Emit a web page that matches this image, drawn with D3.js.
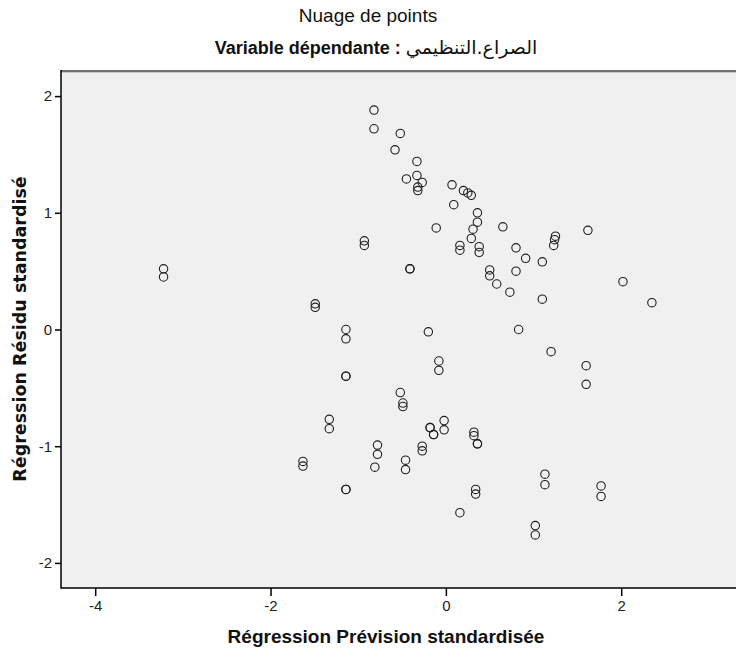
<!DOCTYPE html>
<html>
<head>
<meta charset="utf-8">
<script src="https://cdn.jsdelivr.net/npm/d3@7"></script>
<style>
  body { margin: 0; background: #fff; }
  svg { display: block; }
  .tick text { font-family: "Liberation Sans Narrow", "Liberation Sans", Arial, sans-serif; font-size: 15px; fill: #222; }
  .tick line { stroke: #000; }
</style>
</head>
<body>
<div id="vis_container"></div>
<script>
// Standardized predicted value (x) and standardized residual (y).
// Overlapping circles that look darker are entered twice.
var pred = [
  -0.82, -0.82, -0.52, -0.58, -0.33, -0.33, -0.45, -0.27, -0.32, -0.32,
  0.07, 0.20, 0.25, 0.29, 0.09, 0.36, 0.36, 0.31, 0.29, -0.11,
  -0.93, -0.93, 0.16, 0.16, 0.38, 0.38, 0.65, 0.80, 0.91, 1.10,
  1.25, 1.24, 1.23, 1.62, -0.41, -0.41, 0.50, 0.50, 0.80, 0.58,
  0.73, 1.10, 2.02, 2.35, 0.83, 1.20, 1.60, 1.60, -1.49, -1.49,
  -1.14, -1.14, -1.14, -1.14, -0.20, -0.08, -0.08, -0.52, -0.49, -0.49,
  -1.33, -1.33, -0.18, -0.18, -0.14, -0.14, -0.02, -0.02, 0.32, 0.32,
  0.36, 0.36, -0.78, -0.78, -0.81, -0.27, -0.27, -0.46, -0.46, -1.63,
  -1.63, -1.14, -1.14, 0.34, 0.34, 0.16, 1.13, 1.13, 1.77, 1.77,
  1.02, 1.02, -3.22, -3.22
];
var resid = [
  1.88, 1.72, 1.68, 1.54, 1.44, 1.32, 1.29, 1.26, 1.22, 1.19,
  1.24, 1.19, 1.17, 1.15, 1.07, 1.00, 0.92, 0.86, 0.78, 0.87,
  0.76, 0.72, 0.72, 0.68, 0.71, 0.66, 0.88, 0.70, 0.61, 0.58,
  0.80, 0.77, 0.72, 0.85, 0.52, 0.52, 0.51, 0.46, 0.50, 0.39,
  0.32, 0.26, 0.41, 0.23, 0.00, -0.19, -0.31, -0.47, 0.22, 0.19,
  0.00, -0.08, -0.40, -0.40, -0.02, -0.27, -0.35, -0.54, -0.63, -0.66,
  -0.77, -0.85, -0.84, -0.84, -0.90, -0.90, -0.78, -0.86, -0.88, -0.91,
  -0.98, -0.98, -0.99, -1.07, -1.18, -1.00, -1.04, -1.12, -1.20, -1.13,
  -1.17, -1.37, -1.37, -1.37, -1.41, -1.57, -1.24, -1.33, -1.34, -1.43,
  -1.68, -1.76, 0.52, 0.45
];

var xTicks = [-4, -2, 0, 2];
var yTicks = [-2, -1, 0, 1, 2];

var title = "Nuage de points";
var subtitleLatin = "Variable dépendante : ";
var subtitleArabic = "الصراع.التنظيمي";
var xTitle = "Régression Prévision standardisée";
var yTitle = "Régression Résidu standardisé";

var points = pred.map(function(d, i) { return {x: d, y: resid[i]}; });

var width = 736;
var height = 657;
var plotLeft = 61, plotRight = 740, plotTop = 71, plotBottom = 588;

// The frame runs past the right edge of the picture.
var x = d3.scaleLinear()
  .domain([-4.39, 3.355])
  .range([plotLeft, plotRight]);

var y = d3.scaleLinear()
  .domain([-2.215, 2.215])
  .range([plotBottom, plotTop]);

var svg = d3.select("#vis_container")
  .append("svg")
  .attr("width", width)
  .attr("height", height);

svg.append("rect")
  .attr("width", width)
  .attr("height", height)
  .attr("fill", "#fff");

// plot background
svg.append("rect")
  .attr("x", plotLeft)
  .attr("y", plotTop)
  .attr("width", plotRight - plotLeft)
  .attr("height", plotBottom - plotTop)
  .attr("fill", "#f0f0f0");

// frame: grey top edge, black left and bottom edges
svg.append("line")
  .attr("x1", plotLeft).attr("x2", plotRight)
  .attr("y1", plotTop).attr("y2", plotTop)
  .attr("stroke", "#707070").attr("stroke-width", 2);
svg.append("line")
  .attr("x1", plotLeft).attr("x2", plotRight)
  .attr("y1", plotTop + 1.5).attr("y2", plotTop + 1.5)
  .attr("stroke", "#c8c8c8").attr("stroke-width", 1);

// SPSS prints a plain hyphen for negative ticks
svg.append("g")
  .attr("transform", "translate(0," + plotBottom + ")")
  .call(d3.axisBottom(x).tickValues(xTicks).tickSize(8).tickPadding(4).tickFormat(function(d) { return String(d); }))
  .call(function(g) { g.select(".domain").remove(); })
  .selectAll("line").attr("stroke-width", 1.5);

svg.append("g")
  .attr("transform", "translate(" + plotLeft + ",0)")
  .call(d3.axisLeft(y).tickValues(yTicks).tickSize(6).tickPadding(3).tickFormat(function(d) { return String(d); }))
  .call(function(g) { g.select(".domain").remove(); })
  .selectAll("line").attr("stroke-width", 1.5);

svg.selectAll(".tick text").attr("font-family", null).attr("font-size", null);

svg.append("line")
  .attr("x1", plotLeft).attr("x2", plotLeft)
  .attr("y1", plotTop - 1).attr("y2", plotBottom + 0.75)
  .attr("stroke", "#000").attr("stroke-width", 1.5);
svg.append("line")
  .attr("x1", plotLeft).attr("x2", plotRight)
  .attr("y1", plotBottom).attr("y2", plotBottom)
  .attr("stroke", "#000").attr("stroke-width", 1.5);

// points
svg.selectAll(".pt")
  .data(points)
  .enter().append("circle")
  .attr("class", "pt")
  .attr("cx", function(d) { return x(d.x); })
  .attr("cy", function(d) { return y(d.y); })
  .attr("r", 4.2)
  .attr("fill", "none")
  .attr("stroke", "#1e1e1e")
  .attr("stroke-width", 1.1);

// titles
svg.append("text")
  .attr("x", 368)
  .attr("y", 22)
  .attr("text-anchor", "middle")
  .style("font-family", "Liberation Sans, Arial, sans-serif")
  .style("font-size", "19px")
  .style("fill", "#111")
  .text(title);

var sub = svg.append("text")
  .attr("x", 376)
  .attr("y", 54)
  .attr("text-anchor", "middle")
  .style("font-family", "Liberation Sans, DejaVu Sans, sans-serif")
  .style("font-size", "18px")
  .style("fill", "#111");
sub.append("tspan").style("font-weight", "bold").text(subtitleLatin);
sub.append("tspan").style("font-family", "DejaVu Sans, sans-serif").style("font-size", "19px").text(subtitleArabic);

svg.append("text")
  .attr("x", 386)
  .attr("y", 643)
  .attr("text-anchor", "middle")
  .style("font-family", "Liberation Sans, Arial, sans-serif")
  .style("font-size", "19px")
  .style("font-weight", "bold")
  .style("fill", "#111")
  .text(xTitle);

svg.append("text")
  .attr("transform", "translate(26,329) rotate(-90)")
  .attr("text-anchor", "middle")
  .style("font-family", "DejaVu Sans, sans-serif")
  .style("font-size", "17.5px")
  .style("font-weight", "bold")
  .style("fill", "#111")
  .text(yTitle);
</script>
</body>
</html>
